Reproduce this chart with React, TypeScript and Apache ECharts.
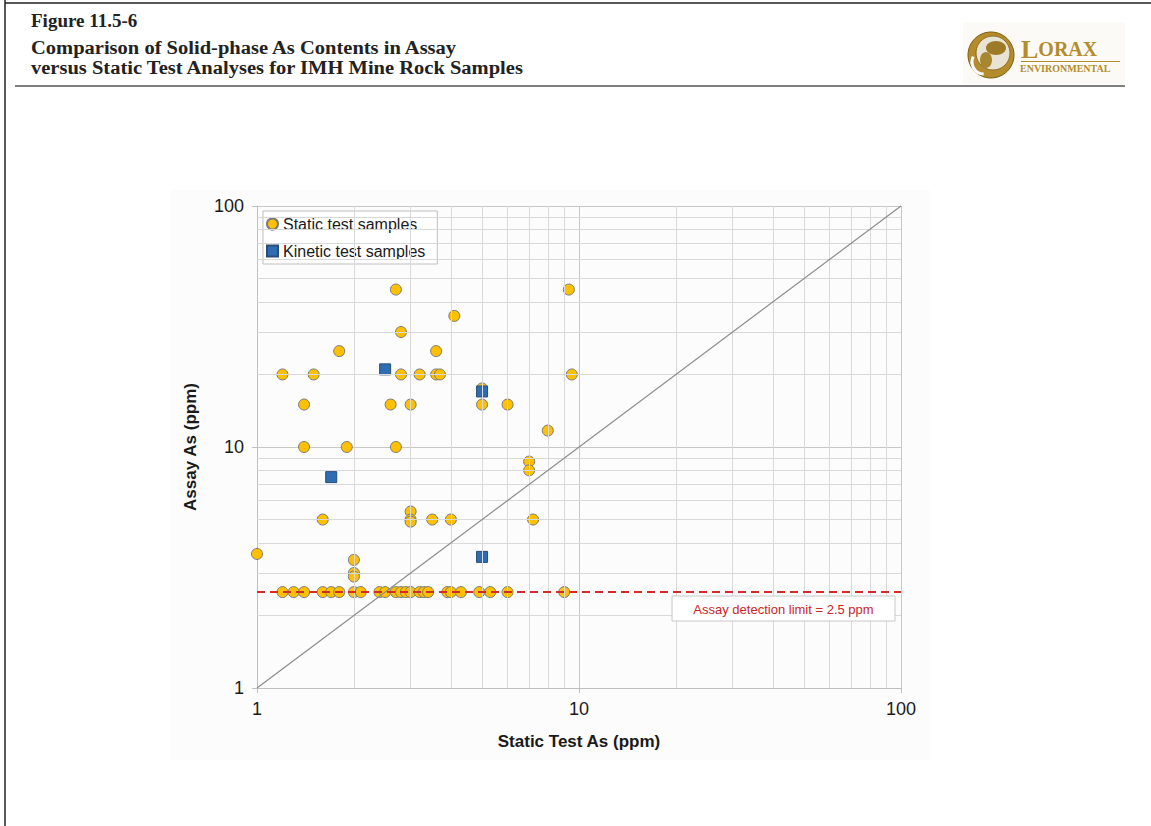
import React, { useEffect, useRef } from 'react';
import * as echarts from 'echarts';

// ---- Data ----
const detectionLimit = 2.5;
// Static test samples that sit at the assay detection limit (x values, ppm)
const detectionRowX = [1.2, 1.3, 1.4, 1.6, 1.7, 1.8, 2.0, 2.1, 2.4, 2.5, 2.7, 2.8, 2.9, 3.0, 3.2, 3.3, 3.4, 3.9, 4.0, 4.3, 4.9, 5.3, 6.0, 9.0];
// Other static test samples [static test As, assay As]
const staticOther = [
  [1.0, 3.6], [1.2, 20], [1.4, 15], [1.4, 10], [1.5, 20], [1.8, 25], [1.9, 10], [1.6, 5],
  [2.0, 3.4], [2.0, 3.0], [2.0, 2.9], [2.7, 45], [2.8, 30], [2.8, 20], [2.6, 15], [2.7, 10],
  [3.0, 15], [3.2, 20], [3.6, 25], [3.6, 20], [3.7, 20], [4.1, 35], [9.3, 45], [9.5, 20],
  [5.0, 17.5], [5.0, 15], [6.0, 15], [8.0, 11.7], [7.0, 8.7], [7.0, 8.0], [3.0, 5.4], [3.0, 5.0],
  [3.0, 4.9], [3.5, 5.0], [4.0, 5.0], [7.2, 5.0],
];
// Kinetic test samples [static test As, assay As]
const kineticSamples = [[2.5, 21], [5.0, 17], [1.7, 7.5], [5.0, 3.5]];
const minorGridValues = [2, 3, 4, 5, 6, 7, 8, 9, 20, 30, 40, 50, 60, 70, 80, 90];
const oneToOne = [[1, 1], [100, 100]];
const axisMin = 1;
const axisMax = 100;

const SANS = '"Liberation Sans", Arial, sans-serif';
const SERIF = '"Liberation Serif", "Times New Roman", serif';
const GOLD = '#b48c2c';

export default function App() {
  const ref = useRef<HTMLDivElement>(null);
  useEffect(() => {
    const chart = echarts.init(ref.current!, null, { renderer: 'svg' });
    const staticData = [...staticOther, ...detectionRowX.map((x) => [x, detectionLimit])];
    const axisCommon = {
      type: 'log',
      logBase: 10,
      min: axisMin,
      max: axisMax,
      axisLine: { show: true, lineStyle: { color: '#bfbfbf', width: 1 } },
      axisTick: { show: true, length: 5, lineStyle: { color: '#bfbfbf' } },
      axisLabel: { fontSize: 18, color: '#1a1a1a', fontFamily: SANS },
      splitLine: { show: true, lineStyle: { color: '#c8c8c8', width: 1 } },
      nameLocation: 'middle',
      nameTextStyle: { fontSize: 17, fontWeight: 'bold', color: '#1a1a1a', fontFamily: SANS },
    };
    const option: any = {
      animation: false,
      backgroundColor: '#ffffff',
      textStyle: { fontFamily: SANS },
      grid: { left: 257, top: 206, width: 644, height: 482, containLabel: false },
      xAxis: { ...axisCommon, name: 'Static Test As (ppm)', nameGap: 45, axisLabel: { ...axisCommon.axisLabel, margin: 12 } },
      yAxis: { ...axisCommon, name: 'Assay As (ppm)', nameGap: 58, axisLabel: { ...axisCommon.axisLabel, margin: 13 } },
      legend: {
        data: [
          { name: 'Static test samples', icon: 'circle' },
          { name: 'Kinetic test samples', icon: 'rect' },
        ],
        orient: 'vertical',
        left: 263,
        top: 211,
        backgroundColor: '#ffffff',
        borderColor: '#bfbfbf',
        borderWidth: 1,
        padding: [5, 12, 5, 3],
        itemGap: 11,
        itemWidth: 11,
        itemHeight: 11,
        textStyle: { fontSize: 16, color: '#1a1a1a', fontFamily: SANS },
      },
      series: [
        {
          name: 'grid-minor',
          type: 'scatter',
          data: [],
          silent: true,
          z: 1,
          markLine: {
            silent: true,
            symbol: ['none', 'none'],
            label: { show: false },
            lineStyle: { color: '#d9d9d9', width: 1, type: 'solid' },
            emphasis: { disabled: true },
            data: [
              ...minorGridValues.map((v) => ({ xAxis: v })),
              ...minorGridValues.map((v) => ({ yAxis: v })),
            ],
          },
        },
        {
          name: 'reference-lines',
          type: 'scatter',
          data: [],
          silent: true,
          z: 2,
          markLine: {
            silent: true,
            symbol: ['none', 'none'],
            label: { show: false },
            emphasis: { disabled: true },
            data: [
              [
                { coord: oneToOne[0], lineStyle: { color: '#8c8c8c', width: 1.2, type: 'solid' } },
                { coord: oneToOne[1] },
              ],
              { yAxis: detectionLimit, lineStyle: { color: '#d42a2a', width: 2, type: [8, 5] } },
            ],
          },
        },
        {
          name: 'Static test samples',
          type: 'scatter',
          data: staticData,
          symbol: 'circle',
          symbolSize: 11,
          z: 3,
          itemStyle: { color: '#ffc000', borderColor: '#7a7a7a', borderWidth: 1, opacity: 1 },
        },
        {
          name: 'Kinetic test samples',
          type: 'scatter',
          data: kineticSamples,
          symbol: 'rect',
          symbolSize: 11,
          z: 4,
          itemStyle: { color: '#2e6db3', borderColor: '#2a4d78', borderWidth: 1, opacity: 1 },
        },
      ],
      graphic: [
        // chart area background
        { type: 'rect', z: -100, silent: true, shape: { x: 171, y: 190, width: 759, height: 570 }, style: { fill: '#fcfcfc' } },
        // page frame
        { type: 'line', shape: { x1: 5, y1: 0, x2: 5, y2: 826 }, style: { stroke: '#222', lineWidth: 1.5 } },
        { type: 'line', shape: { x1: 5, y1: 3, x2: 1151, y2: 3 }, style: { stroke: '#222', lineWidth: 1.5 } },
        { type: 'line', shape: { x1: 15, y1: 86, x2: 1125, y2: 86 }, style: { stroke: '#555', lineWidth: 1.5 } },
        // header
        { type: 'text', x: 31, y: 20, style: { text: 'Figure 11.5-6', fontSize: 19, fontWeight: 'bold', fontFamily: SERIF, fill: '#222', verticalAlign: 'middle' } },
        { type: 'text', x: 31, y: 47.5, scaleX: 1.08, style: { text: 'Comparison of Solid-phase As Contents in Assay', fontSize: 19, fontWeight: 'bold', fontFamily: SERIF, fill: '#222', verticalAlign: 'middle' } },
        { type: 'text', x: 31, y: 67, scaleX: 1.08, style: { text: 'versus Static Test Analyses for IMH Mine Rock Samples', fontSize: 19, fontWeight: 'bold', fontFamily: SERIF, fill: '#222', verticalAlign: 'middle' } },
        // logo
        { type: 'rect', shape: { x: 963, y: 22, width: 162, height: 62 }, style: { fill: '#fbfaf6' } },
        { type: 'circle', shape: { cx: 991, cy: 55, r: 23 }, style: { fill: GOLD, stroke: '#7d5e12', lineWidth: 1 } },
        { type: 'circle', shape: { cx: 993, cy: 53, r: 17 }, style: { fill: '#e9e3d3', stroke: '#8a6b1c', lineWidth: 1 } },
        { type: 'ellipse', shape: { cx: 996, cy: 48, rx: 10, ry: 7 }, style: { fill: '#9c7a26' } },
        { type: 'ellipse', shape: { cx: 986, cy: 60, rx: 6, ry: 8 }, style: { fill: '#a88630' } },
        { type: 'arc', shape: { cx: 984, cy: 62, r: 12, startAngle: 1.6, endAngle: 3.6 }, style: { stroke: '#ffffff', lineWidth: 3, fill: 'none' } },
        {
          type: 'text', x: 1021, y: 49,
          style: {
            text: '{a|L}{b|ORAX}',
            verticalAlign: 'middle',
            rich: {
              a: { fontSize: 26, fontWeight: 'bold', fontFamily: SERIF, fill: GOLD, color: GOLD, lineHeight: 22 },
              b: { fontSize: 20, fontWeight: 'bold', fontFamily: SERIF, fill: GOLD, color: GOLD, lineHeight: 22 },
            },
          },
        },
        { type: 'line', shape: { x1: 1021, y1: 61.5, x2: 1120, y2: 61.5 }, style: { stroke: GOLD, lineWidth: 1 } },
        { type: 'text', x: 1020, y: 68.5, style: { text: 'ENVIRONMENTAL', fontSize: 10, fontWeight: 'bold', fontFamily: SERIF, fill: GOLD, verticalAlign: 'middle', lineHeight: 10 } },
        // detection limit label
        { type: 'rect', z: 50, shape: { x: 672, y: 596, width: 223, height: 25 }, style: { fill: '#ffffff', stroke: '#c8c8c8', lineWidth: 1 } },
        { type: 'text', z: 51, x: 783.5, y: 609, style: { text: 'Assay detection limit = 2.5 ppm', fontSize: 13, fontFamily: SANS, fill: '#c8262a', align: 'center', verticalAlign: 'middle' } },
      ],
    };
    chart.setOption(option);
    return () => chart.dispose();
  }, []);
  return <div ref={ref} style={{ position: 'fixed', left: 0, top: 0, width: 1151, height: 826 }} />;
}
